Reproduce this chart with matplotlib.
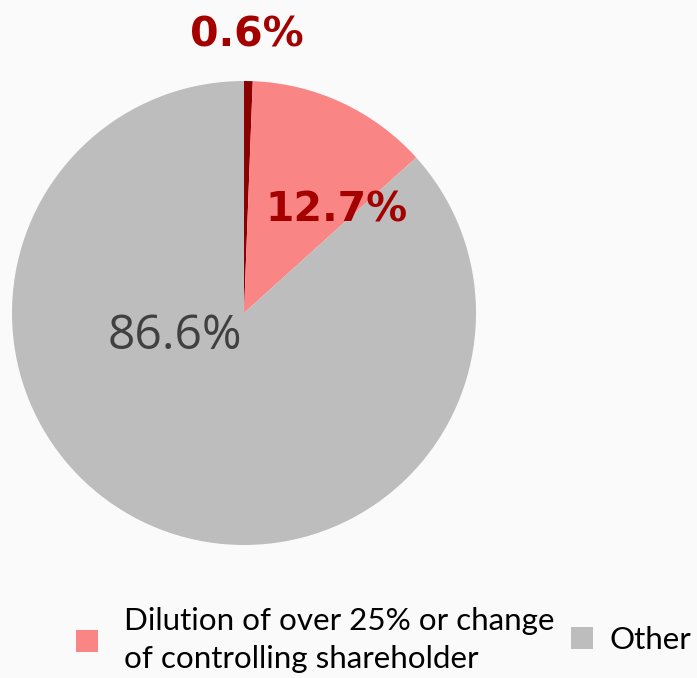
import matplotlib.pyplot as plt
from matplotlib.lines import Line2D

# Share of cases by type
categories = ["Other type", "Dilution of over 25% or change\nof controlling shareholder", "Other"]
shares = [0.6, 12.7, 86.6]
colors = ["#8B0000", "#F98585", "#BDBDBD"]

bg = "#FAFAFA"
fig = plt.figure(figsize=(6.97, 6.78), dpi=100, facecolor=bg)

# square axes holding the pie (radius 1 in data units)
ax = fig.add_axes([12 / 697, 133 / 678, 464 / 697, 464 / 678])
ax.set_facecolor(bg)
ax.pie(shares, colors=colors, startangle=90, counterclock=False,
       radius=1, wedgeprops=dict(linewidth=0))
ax.set_aspect("auto")
ax.set_xlim(-1, 1)
ax.set_ylim(-1, 1)
ax.axis("off")

# value labels
label_pos = [(0.013, 1.198), (0.397, 0.44), (-0.297, -0.10)]
label_color = ["#A50000", "#A50000", "#404040"]
label_weight = ["bold", "bold", "normal"]
label_font = ["DejaVu Sans", "DejaVu Sans", "Open Sans"]
label_size = [29.5, 29.5, 34.5]
for v, (x, y), c, w, f, s in zip(shares, label_pos, label_color, label_weight, label_font, label_size):
    ax.text(x, y, f"{v}%", ha="center", va="center", color=c,
            fontweight=w, family=f, fontsize=s, clip_on=False)

# legend entries for the two larger groups, placed side by side
legend_x = [76 / 697, 571 / 697]
legend_pad = [0.83, 0.54]
for i, x, pad in zip((1, 2), legend_x, legend_pad):
    h = Line2D([], [], marker="s", linestyle="none", markersize=15.8,
               markerfacecolor=colors[i], markeredgewidth=0)
    leg = fig.legend([h], [categories[i]], loc="center left",
                     bbox_to_anchor=(x, 0.056), frameon=False,
                     prop={"family": "Lato", "size": 22.6}, handlelength=0.7,
                     handletextpad=pad, borderpad=0, borderaxespad=0)
    for t in leg.get_texts():
        t.set_linespacing(1.45)

fig.savefig("out.png", dpi=100, facecolor=bg)
